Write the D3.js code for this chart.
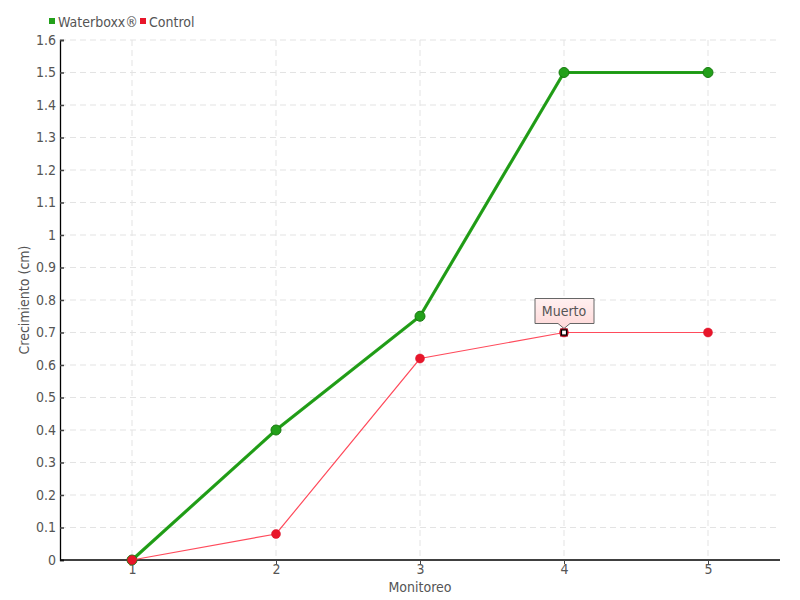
<!DOCTYPE html>
<html><head><meta charset="utf-8">
<script src="https://cdn.jsdelivr.net/npm/d3@7"></script>
<style>
body{margin:0;background:#fff;}
text{font-family:"DejaVu Sans Condensed","Liberation Sans Narrow","Roboto",sans-serif;fill:#555;}
</style></head>
<body>
<svg id="c" width="800" height="600"></svg>
<script>
const categories = ["1","2","3","4","5"];
const waterboxx = [0, 0.4, 0.75, 1.5, 1.5];
const control = [0, 0.08, 0.62, 0.7, 0.7];
const yTicks = [0,0.1,0.2,0.3,0.4,0.5,0.6,0.7,0.8,0.9,1,1.1,1.2,1.3,1.4,1.5,1.6];
const seriesNames = ["Waterboxx®","Control"];
const annotation = {series:"Control", index:3, label:"Muerto"};

const svg = d3.select("#c");
const L=60, R=780, T=40, B=560;
const x = d3.scalePoint().domain(categories).range([L,R]).padding(0.5);
const y = d3.scaleLinear().domain([0,1.6]).range([B,T]);

// grid
const g = svg.append("g");
g.selectAll(".hg").data(yTicks.slice(1)).join("line")
  .attr("x1",L).attr("x2",R).attr("y1",d=>y(d)).attr("y2",d=>y(d))
  .attr("stroke","#e3e3e3").attr("stroke-dasharray","6,4");
g.selectAll(".vg").data(categories).join("line")
  .attr("x1",d=>x(d)).attr("x2",d=>x(d)).attr("y1",T).attr("y2",B)
  .attr("stroke","#e3e3e3").attr("stroke-dasharray","6,4");

// y axis
const ya = svg.append("g").attr("transform",`translate(${L},0)`)
  .call(d3.axisLeft(y).tickValues(yTicks).tickFormat(d=>String(+d.toFixed(1))).tickSize(-4).tickPadding(8));
ya.select(".domain").attr("stroke","#000").attr("stroke-width",1.3);
ya.selectAll(".tick line").attr("stroke","#444").attr("stroke-width",1.5);
ya.selectAll(".tick text").attr("font-size",14).attr("fill","#555").style("font-family",'"DejaVu Sans Condensed","Liberation Sans Narrow",sans-serif').attr("dy","0.32em").attr("x",-4);

// x axis
const xa = svg.append("g").attr("transform",`translate(0,${B})`)
  .call(d3.axisBottom(x).tickSize(4).tickPadding(0));
xa.select(".domain").attr("stroke","#000").attr("stroke-width",1.3).attr("d",`M${L},0H${R}`);
xa.selectAll(".tick line").attr("stroke","#444");
xa.selectAll(".tick text").attr("font-size",14).attr("fill","#555").style("font-family",'"DejaVu Sans Condensed","Liberation Sans Narrow",sans-serif');

// axis titles
svg.append("text").attr("x",420).attr("y",592).attr("text-anchor","middle").attr("font-size",14).text("Monitoreo");
svg.append("text").attr("transform","translate(29,300) rotate(-90)").attr("text-anchor","middle").attr("font-size",14).text("Crecimiento (cm)");

const line = d3.line().x((d,i)=>x(categories[i])).y(d=>y(d));

// waterboxx
svg.append("path").datum(waterboxx).attr("d",line).attr("fill","none").attr("stroke","#24a21a").attr("stroke-width",3.2);
svg.append("path").datum(waterboxx).attr("d",line).attr("fill","none").attr("stroke","#1a8a12").attr("stroke-width",1).attr("opacity",0.6);
svg.selectAll(".wp").data(waterboxx).join("circle")
  .attr("cx",(d,i)=>x(categories[i])).attr("cy",d=>y(d)).attr("r",5)
  .attr("fill","#23a01a").attr("stroke","#187a10").attr("stroke-width",1);

// control
svg.append("path").datum(control).attr("d",line).attr("fill","none").attr("stroke","#ff4b5c").attr("stroke-width",1.2);
svg.selectAll(".cp").data(control).join("circle")
  .attr("cx",(d,i)=>x(categories[i])).attr("cy",d=>y(d)).attr("r",4.5)
  .attr("fill","#e8162a").attr("stroke","#d9102a").attr("stroke-width",0.5);

// annotation
const ax = x(categories[annotation.index]), ay = y(control[annotation.index]);
svg.append("rect").attr("x",ax-4).attr("y",ay-4).attr("width",8).attr("height",8).attr("fill","#a01020");
svg.append("rect").attr("x",ax-2.5).attr("y",ay-2.5).attr("width",5).attr("height",5).attr("fill","#fff").attr("stroke","#000").attr("stroke-width",1.2);
const defs = svg.append("defs");
const gr = defs.append("linearGradient").attr("id","tipg").attr("x1",0).attr("y1",0).attr("x2",0).attr("y2",1);
gr.append("stop").attr("offset","0%").attr("stop-color","#fff0f0");
gr.append("stop").attr("offset","100%").attr("stop-color","#ffd8d8");
const bx=ax-29, by=ay-34, bw=59, bh=25;
svg.append("path")
  .attr("d",`M${bx},${by}H${bx+bw}V${by+bh}H${ax+6}L${ax},${ay-4}L${ax-6},${by+bh}H${bx}Z`)
  .attr("fill","url(#tipg)").attr("stroke","#666").attr("stroke-width",1);
svg.append("text").attr("x",ax).attr("y",by+17).attr("text-anchor","middle").attr("font-size",14).attr("fill","#444").text(annotation.label);

// legend
const colors=["#23a01a","#e8162a"];
const lx=[49,140];
seriesNames.forEach((s,i)=>{
  svg.append("rect").attr("x",lx[i]).attr("y",18).attr("width",6).attr("height",6).attr("fill",colors[i]);
  svg.append("text").attr("x",lx[i]+9).attr("y",27).attr("font-size",14).attr("fill","#555").text(s);
});
</script>
</body></html>
